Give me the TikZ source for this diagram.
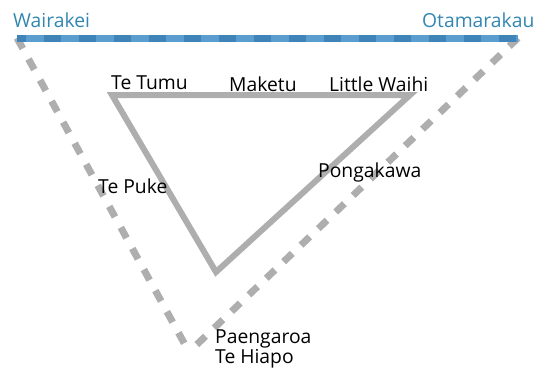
\documentclass[tikz,border=0pt]{standalone}
\usepackage{fontspec}
\setmainfont{Open Sans}
\definecolor{route}{RGB}{174,174,174}
\definecolor{coast}{RGB}{50,134,178}
\definecolor{coastlight}{RGB}{92,157,208}
\definecolor{coastdark}{RGB}{62,132,184}
\begin{document}
\begin{tikzpicture}[x=1pt,y=-1pt,line join=miter]
    \tikzstyle{place}=[anchor=base west, inner sep=0pt, font=\fontsize{19.3}{20}\selectfont]
    \tikzstyle{end place}=[place, text=coast]
    \tikzstyle{old road}=[draw=route, line width=7pt, dash pattern=on 12pt off 12pt]
    \tikzstyle{road}=[draw=route, line width=6pt]
    \tikzstyle{coast road}=[draw=coastlight, line width=7pt]
    \useasboundingbox (0,0) rectangle (545,368);

    % Draw the corners
    \coordinate (C-W) at (17,38);
    \coordinate (C-O) at (518,38);
    \coordinate (C-P) at (189,352);
    \coordinate (R-1) at (112,95);
    \coordinate (R-2) at (410,95);
    \coordinate (R-3) at (216,272);

    % Draw the old roads
    \draw[old road] (C-W) -- (C-P);
    \draw[old road] (C-O) -- (C-P);

    % Draw the coast road
    \draw[coast road] (C-W) -- (C-O);
    \draw[coast road, draw=coastdark, dash pattern=on 17pt off 18pt, dash phase=8pt] (C-W) -- (C-O);

    % Draw the inner road
    \draw[road] (R-1) -- (R-2) -- (R-3) -- cycle;

    % Draw the places
    \node[end place] (P-W) at (13,27) {Wairakei};
    \node[end place] (P-O) at (422,27) {Otamarakau};
    \foreach \name / \x / \y / \txt in {T/111/89/Te Tumu, M/229/91/Maketu, L/329/91/Little Waihi,
                                       K/98/193/Te Puke, G/318/177/Pongakawa}
      \node[place] (P-\name) at (\x,\y) {\txt};
    \node[place, align=left] (P-P) at (215,363) {Paengaroa\\Te Hiapo};
\end{tikzpicture}
\end{document}
